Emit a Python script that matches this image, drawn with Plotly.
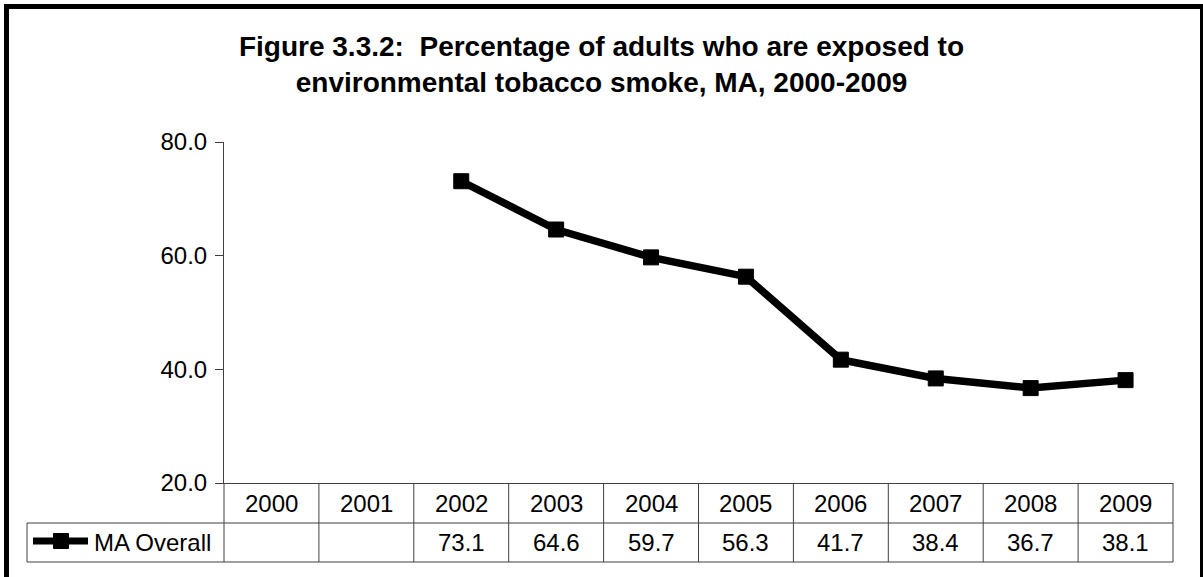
import plotly.graph_objects as go

# ---- data ----
years = ["2000", "2001", "2002", "2003", "2004", "2005", "2006", "2007", "2008", "2009"]
ma_overall = [None, None, 73.1, 64.6, 59.7, 56.3, 41.7, 38.4, 36.7, 38.1]
series_name = "MA Overall"
y_ticks = [20, 40, 60, 80]
title_text = "<b>Figure 3.3.2:  Percentage of adults who are exposed to<br>environmental tobacco smoke, MA, 2000-2009</b>"

# ---- layout geometry (pixels) ----
W, H = 1203, 577
L, R, T, B = 224, 30, 142, 94
PW = W - L - R
PH = H - T - B
FONT = "Liberation Sans, Arial, sans-serif"
GRID = "#404040"
FS = 24


def px(xp):
    return (xp - L) / PW


def py(yp):
    return (H - B - yp) / PH


row1_top, row1_bot = 483, 523
row2_bot = 562
legend_left = 27

fig = go.Figure()
fig.add_trace(go.Scatter(
    x=years, y=ma_overall, mode="lines+markers", name=series_name,
    line=dict(color="black", width=7.5),
    marker=dict(symbol="square", size=15, color="black", line=dict(color="black", width=1)),
    connectgaps=False, showlegend=False,
))

shapes = []
# outer border
shapes.append(dict(type="rect", xref="paper", yref="paper",
                   x0=px(6.5), x1=px(1202.5), y0=py(620), y1=py(6.5),
                   line=dict(color="black", width=5), fillcolor="rgba(0,0,0,0)", layer="below"))
# y-axis extension through table
shapes.append(dict(type="line", xref="paper", yref="paper", x0=0, x1=0,
                   y0=py(row1_top), y1=py(row2_bot), line=dict(color=GRID, width=1)))
# right edge of table
shapes.append(dict(type="line", xref="paper", yref="paper", x0=1, x1=1,
                   y0=py(row1_top), y1=py(row2_bot), line=dict(color=GRID, width=1)))
# interior vertical lines at category boundaries
for i in range(1, len(years)):
    shapes.append(dict(type="line", xref="x", yref="paper", x0=i - 0.5, x1=i - 0.5,
                       y0=py(row1_top), y1=py(row2_bot), line=dict(color=GRID, width=1)))
# horizontal lines
for yy in (row1_bot, row2_bot):
    shapes.append(dict(type="line", xref="paper", yref="paper", x0=px(legend_left), x1=1,
                       y0=py(yy), y1=py(yy), line=dict(color=GRID, width=1)))
# legend cell left edge
shapes.append(dict(type="line", xref="paper", yref="paper", x0=px(legend_left), x1=px(legend_left),
                   y0=py(row1_bot), y1=py(row2_bot), line=dict(color=GRID, width=1)))
# legend symbol
ly = 541
shapes.append(dict(type="line", xref="paper", yref="paper", x0=px(33), x1=px(88),
                   y0=py(ly), y1=py(ly), line=dict(color="black", width=7)))
shapes.append(dict(type="rect", xref="paper", yref="paper", x0=px(53.5), x1=px(68.5),
                   y0=py(ly + 7.5), y1=py(ly - 7.5), line=dict(color="black", width=1),
                   fillcolor="black"))

annotations = []
for i, (yr, v) in enumerate(zip(years, ma_overall)):
    annotations.append(dict(x=i, xref="x", y=py((row1_top + row1_bot) / 2), yref="paper",
                            text=yr, showarrow=False, xanchor="center", yanchor="middle",
                            font=dict(family=FONT, size=FS, color="black")))
    if v is not None:
        annotations.append(dict(x=i, xref="x", y=py((row1_bot + row2_bot) / 2), yref="paper",
                                text=f"{v:.1f}", showarrow=False,
                                xanchor="center", yanchor="middle",
                                font=dict(family=FONT, size=FS, color="black")))
annotations.append(dict(x=px(92), xref="paper", y=py((row1_bot + row2_bot) / 2), yref="paper",
                        text=series_name, showarrow=False, xanchor="left", yanchor="middle",
                        font=dict(family=FONT, size=FS, color="black")))

fig.update_layout(
    width=W, height=H,
    margin=dict(l=L, r=R, t=T, b=B, autoexpand=False),
    paper_bgcolor="white", plot_bgcolor="white",
    font=dict(family=FONT, size=FS, color="black"),
    title=dict(text=title_text, x=0.5, xref="container", xanchor="center",
               y=1 - 56 / H, yref="container", yanchor="top",
               font=dict(family=FONT, size=28, color="black")),
    xaxis=dict(type="category", categoryorder="array", categoryarray=years,
               range=[-0.5, len(years) - 0.5], showticklabels=False, ticks="",
               showline=True, linecolor=GRID, linewidth=1, showgrid=False, zeroline=False,
               fixedrange=True),
    yaxis=dict(range=[20, 80], tickvals=y_ticks, tickformat=".1f", ticks="outside",
               ticklen=8, tickcolor=GRID, showline=True, linecolor=GRID, linewidth=1,
               ticklabelstandoff=3,
               showgrid=False, zeroline=False, tickfont=dict(family=FONT, size=FS, color="black")),
    shapes=shapes, annotations=annotations,
    showlegend=False,
)

fig.write_html("out.html")
